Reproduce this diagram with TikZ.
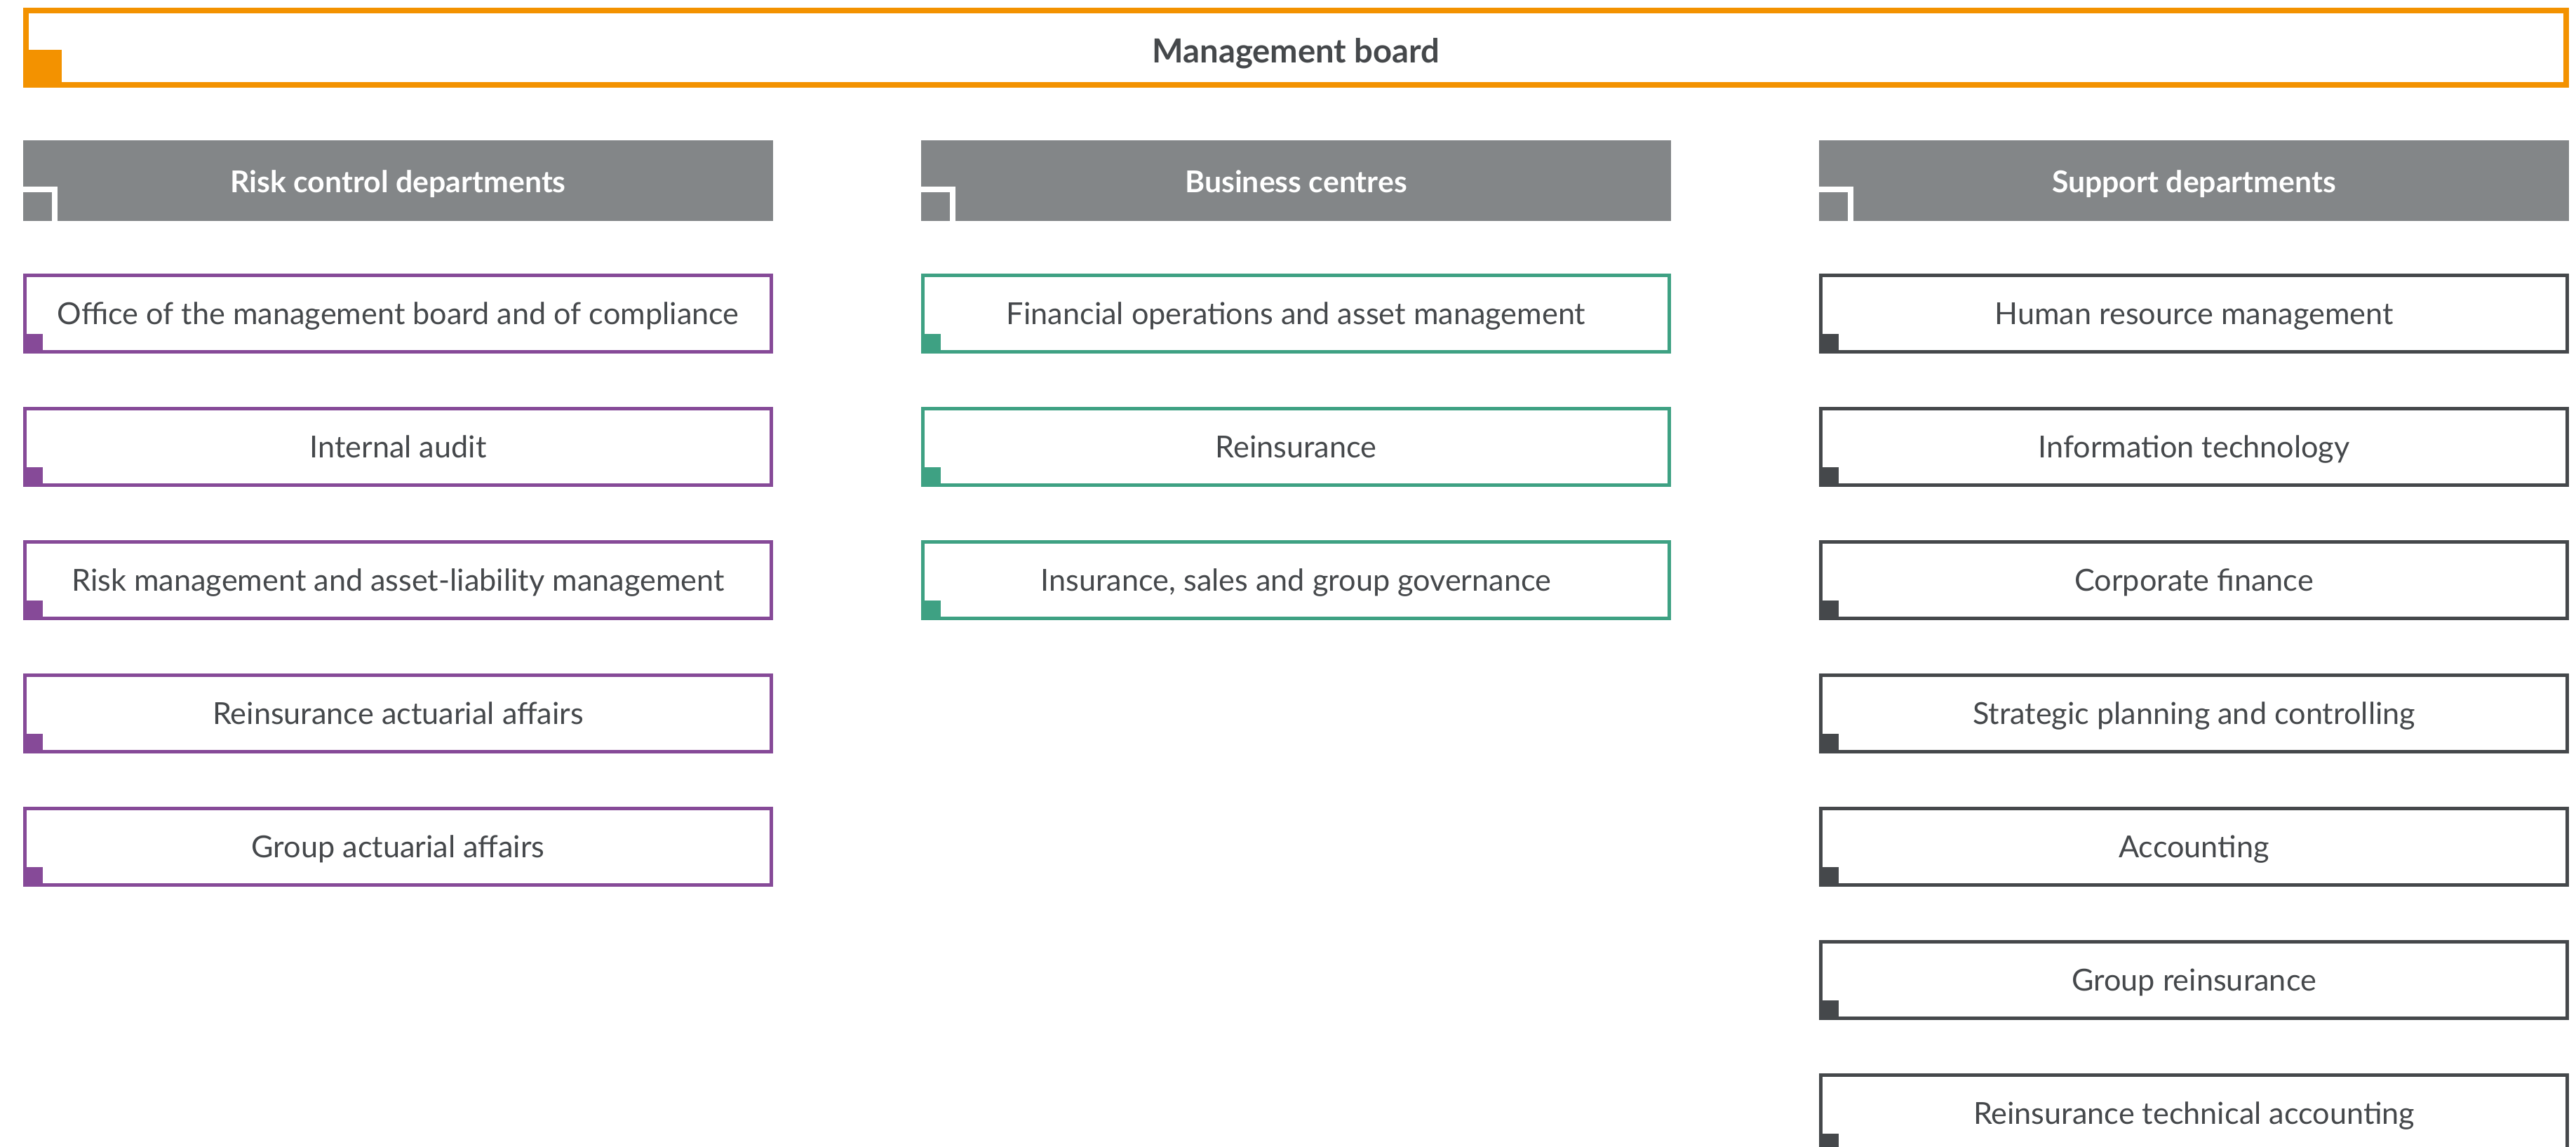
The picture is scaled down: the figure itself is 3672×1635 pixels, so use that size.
\documentclass[tikz,border=0pt]{standalone}
\usepackage{fontspec}
\setmainfont{Lato}
\definecolor{mborange}{RGB}{243,146,0}
\definecolor{headgray}{RGB}{131,134,136}
\definecolor{riskpurple}{RGB}{134,74,152}
\definecolor{busgreen}{RGB}{62,161,131}
\definecolor{suppdark}{RGB}{69,72,75}
\definecolor{txtgray}{RGB}{69,72,75}

\begin{document}
\begin{tikzpicture}[x=0.25pt, y=-0.25pt,
	every node/.style={inner sep=0pt, text=txtgray, text height=7.9pt, text depth=0pt,
		font=\fontsize{10.8}{13}\selectfont},
	headbox/.style={fill=headgray, text=white, outer sep=0pt, text height=8.45pt,
		font=\fontsize{10.7}{13}\selectfont\bfseries,
		minimum width=267.25pt, minimum height=28.75pt},
	deptbox/.style={draw=#1, fill=white, line width=1.25pt,
		minimum width=266pt, minimum height=27.25pt}]
\useasboundingbox (0,0) rectangle (3672,1635);
% top
\node[draw=mborange, line width=2pt, minimum width=905.25pt, minimum height=26.5pt,
	text height=11pt, font=\fontsize{11.8}{14}\selectfont\bfseries] (board) at (1847.5,68) {Management board};
\fill[mborange] (board.south west) rectangle ++(55,-54);
% column heads
\node[headbox] (riskhead) at (567.5,257.5) {Risk control departments};
\node[headbox] (bushead) at (1847.5,257.5) {Business centres};
\node[headbox] (supphead) at (3127.5,257.5) {Support departments};
\foreach \h in {riskhead, bushead, supphead}
	\draw[white, line width=2pt] ([shift={(0,-45)}]\h.south west) -| ([shift={(45,0)}]\h.south west);
% departments
\foreach \txt [count=\i from 0] in {Office of the management board and of compliance,
	Internal audit, Risk management and asset-liability management,
	Reinsurance actuarial affairs, Group actuarial affairs}
{
	\node[deptbox=riskpurple] (risk\i) at (567.5, 447+190*\i) {\txt};
	\fill[riskpurple] (risk\i.south west) rectangle ++(28,-28);
}
\foreach \txt [count=\i from 0] in {Financial operations and asset management,
	Reinsurance, {Insurance, sales and group governance}}
{
	\node[deptbox=busgreen] (bus\i) at (1847.5, 447+190*\i) {\txt};
	\fill[busgreen] (bus\i.south west) rectangle ++(28,-28);
}
\foreach \txt [count=\i from 0] in {Human resource management, Information technology,
	Corporate finance, Strategic planning and controlling, Accounting,
	Group reinsurance, Reinsurance technical accounting}
{
	\node[deptbox=suppdark] (supp\i) at (3127.5, 447+190*\i) {\txt};
	\fill[suppdark] (supp\i.south west) rectangle ++(28,-28);
}
\end{tikzpicture}
\end{document}
